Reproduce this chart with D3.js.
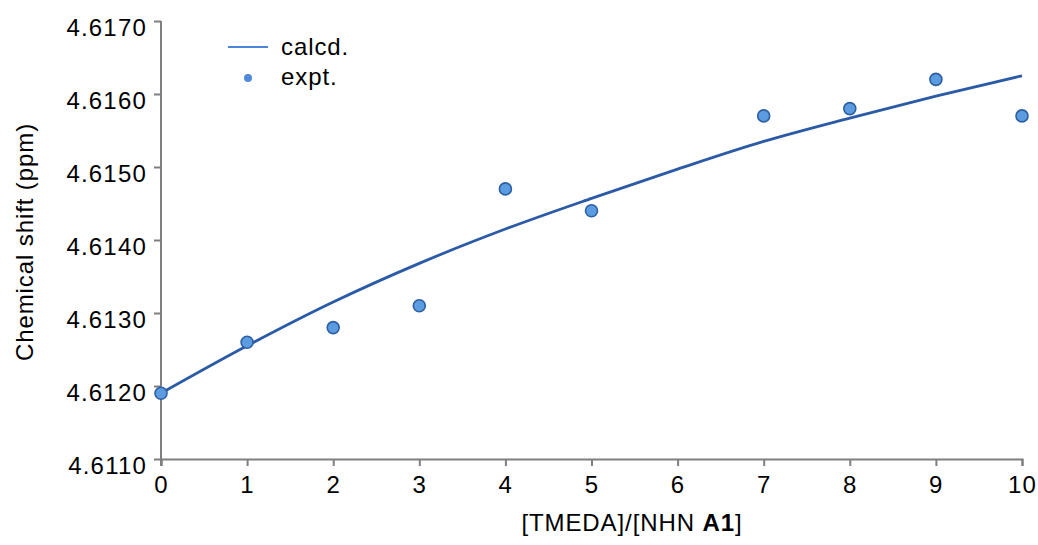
<!DOCTYPE html>
<html>
<head>
<meta charset="utf-8">
<script src="https://cdn.jsdelivr.net/npm/d3@7"></script>
<style>
  html, body { margin: 0; padding: 0; background: #fff; }
  svg { display: block; font-family: "Liberation Sans", Arial, sans-serif; }
  .axis path, .axis line { stroke: #7f7f7f; stroke-width: 2; }
  .axis text { fill: #000; font-size: 24px; letter-spacing: 1.2px; }
  .label { font-size: 24px; letter-spacing: 0.9px; fill: #000; }
</style>
</head>
<body>
<svg id="chart" width="1038" height="545"></svg>
<script>
// Experimental chemical shifts vs. TMEDA equivalents
const exptX = [0, 1, 2, 3, 4, 5, 7, 8, 9, 10];
const exptY = [4.6119, 4.6126, 4.6128, 4.6131, 4.6147, 4.6144, 4.6157, 4.6158, 4.6162, 4.6157];

// Fitted (calculated) binding curve
const calcX = [0, 1, 2, 3, 4, 5, 6, 7, 8, 9, 10];
const calcY = [4.61190, 4.61255, 4.61315, 4.61368, 4.61415, 4.61457, 4.61497, 4.61535, 4.61567, 4.61597, 4.61625];

const xTicks = [0, 1, 2, 3, 4, 5, 6, 7, 8, 9, 10];
const yTicks = [4.6110, 4.6120, 4.6130, 4.6140, 4.6150, 4.6160, 4.6170];

const svg = d3.select("#chart");
const plot = { left: 161, right: 1022, top: 21, bottom: 459 };

const x = d3.scaleLinear().domain([0, 10]).range([plot.left, plot.right]);
const y = d3.scaleLinear().domain([4.611, 4.617]).range([plot.bottom, plot.top]);

// Axes
const gx = svg.append("g").attr("class", "axis")
  .attr("transform", `translate(0,${plot.bottom})`)
  .call(d3.axisBottom(x).tickValues(xTicks).tickFormat(d3.format("d")).tickSize(7).tickSizeOuter(7).tickPadding(10));

const gy = svg.append("g").attr("class", "axis")
  .attr("transform", `translate(${plot.left},0)`)
  .call(d3.axisLeft(y).tickValues(yTicks).tickFormat(d3.format(".4f")).tickSize(7).tickSizeOuter(0).tickPadding(7));
gy.selectAll(".tick text").attr("dy", "0.6em");
// extend vertical axis down to the tick row
gy.select(".domain").attr("d", `M0,${plot.top}V${plot.bottom + 7}`);

// Axis titles
svg.append("text")
  .attr("class", "label")
  .attr("x", 632).attr("y", 531)
  .attr("text-anchor", "middle")
  .html('[TMEDA]/[NHN <tspan font-weight="bold">A1</tspan>]');

svg.append("text")
  .attr("class", "label")
  .attr("transform", `translate(33,${(plot.top + plot.bottom) / 2 + 2}) rotate(-90)`)
  .attr("text-anchor", "middle")
  .text("Chemical shift (ppm)");

// Calculated curve
const calc = calcX.map((d, i) => [d, calcY[i]]);
svg.append("path")
  .datum(calc)
  .attr("fill", "none")
  .attr("stroke", "#2b5aa6")
  .attr("stroke-width", 2.8)
  .attr("d", d3.line().x(d => x(d[0])).y(d => y(d[1])).curve(d3.curveMonotoneX));

// Experimental points
svg.append("g").selectAll("circle")
  .data(exptX.map((d, i) => [d, exptY[i]]))
  .join("circle")
  .attr("cx", d => x(d[0]))
  .attr("cy", d => y(d[1]))
  .attr("r", 6)
  .attr("fill", "#5b9be0")
  .attr("stroke", "#2d5fa3")
  .attr("stroke-width", 1.6);

// Legend
const legend = svg.append("g");
legend.append("line")
  .attr("x1", 228).attr("x2", 268).attr("y1", 47).attr("y2", 47)
  .attr("stroke", "#4a86d8").attr("stroke-width", 2);
legend.append("text").attr("class", "label").attr("x", 281).attr("y", 55).text("calcd.");
legend.append("circle")
  .attr("cx", 248).attr("cy", 78).attr("r", 4)
  .attr("fill", "#4f8ad8");
legend.append("text").attr("class", "label").attr("x", 281).attr("y", 85).text("expt.");
</script>
</body>
</html>
